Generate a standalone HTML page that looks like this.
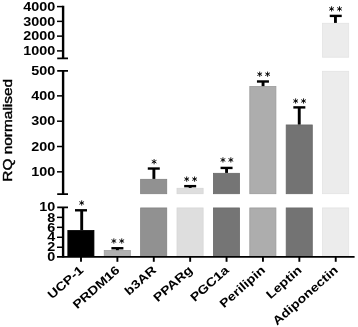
<!DOCTYPE html>
<html><head><meta charset="utf-8"><title>chart</title>
<style>
html,body{margin:0;padding:0;background:#fff;}
body{width:358px;height:327px;overflow:hidden;font-family:"Liberation Sans",sans-serif;}
svg text{font-family:"Liberation Sans",sans-serif;fill:#000;}
.yl text{font-weight:bold;font-size:12.4px;}
.xl text{font-weight:bold;font-size:12px;}
.yt{font-size:12.9px;stroke:#000;stroke-width:0.4px;}
</style></head><body>
<svg width="358" height="327" viewBox="0 0 358 327" style="display:block;will-change:transform">
<rect width="358" height="327" fill="#fff"/>
<defs><path id="ast" d="M0 -2.6V2.6M-2.35 -1.35L2.35 1.35M-2.35 1.35L2.35 -1.35" stroke="#000" stroke-width="0.92" fill="none"/></defs>
<rect x="67.85" y="230.46" width="26.10" height="26.14" fill="#000000" stroke="#000000" stroke-width="0.8"/>
<path d="M81.70 230.06V210.29" stroke="#000" stroke-width="2.9" fill="none"/><path d="M75.00 210.29H87.00" stroke="#000" stroke-width="2.4" fill="none"/>
<use href="#ast" x="81.70" y="202.95"/>
<rect x="104.24" y="250.58" width="26.10" height="6.02" fill="#b0b0b0" stroke="#9e9e9e" stroke-width="0.8"/>
<path d="M117.39 250.18V248.24" stroke="#000" stroke-width="2.9" fill="none"/><path d="M111.39 248.24H123.39" stroke="#000" stroke-width="2.4" fill="none"/>
<use href="#ast" x="113.85" y="241.00"/><use href="#ast" x="121.75" y="241.00"/>
<rect x="140.63" y="207.95" width="26.10" height="48.65" fill="#919191" stroke="#828282" stroke-width="0.8"/>
<rect x="140.63" y="179.32" width="26.10" height="14.38" fill="#919191" stroke="#828282" stroke-width="0.8"/>
<path d="M153.88 178.92V168.54" stroke="#000" stroke-width="2.9" fill="none"/><path d="M147.78 168.54H159.78" stroke="#000" stroke-width="2.4" fill="none"/>
<use href="#ast" x="154.10" y="161.70"/>
<rect x="177.02" y="207.95" width="26.10" height="48.65" fill="#dedede" stroke="#d6d6d6" stroke-width="0.8"/>
<rect x="177.02" y="188.31" width="26.10" height="5.39" fill="#dedede" stroke="#d6d6d6" stroke-width="0.8"/>
<path d="M190.17 187.91V186.14" stroke="#000" stroke-width="2.9" fill="none"/><path d="M184.17 186.14H196.17" stroke="#000" stroke-width="2.4" fill="none"/>
<use href="#ast" x="186.70" y="179.10"/><use href="#ast" x="194.60" y="179.10"/>
<rect x="213.41" y="207.95" width="26.10" height="48.65" fill="#757575" stroke="#696969" stroke-width="0.8"/>
<rect x="213.41" y="173.32" width="26.10" height="20.38" fill="#757575" stroke="#696969" stroke-width="0.8"/>
<path d="M226.56 172.92V167.93" stroke="#000" stroke-width="2.9" fill="none"/><path d="M220.56 167.93H232.56" stroke="#000" stroke-width="2.4" fill="none"/>
<use href="#ast" x="222.95" y="159.90"/><use href="#ast" x="230.85" y="159.90"/>
<rect x="249.80" y="207.95" width="26.10" height="48.65" fill="#adadad" stroke="#9b9b9b" stroke-width="0.8"/>
<rect x="249.80" y="86.52" width="26.10" height="107.18" fill="#adadad" stroke="#9b9b9b" stroke-width="0.8"/>
<path d="M263.05 86.12V81.49" stroke="#000" stroke-width="2.9" fill="none"/><path d="M256.95 81.49H268.95" stroke="#000" stroke-width="2.4" fill="none"/>
<use href="#ast" x="259.70" y="74.20"/><use href="#ast" x="267.60" y="74.20"/>
<rect x="286.19" y="207.95" width="26.10" height="48.65" fill="#737373" stroke="#676767" stroke-width="0.8"/>
<rect x="286.19" y="124.96" width="26.10" height="68.74" fill="#737373" stroke="#676767" stroke-width="0.8"/>
<path d="M299.24 124.56V107.39" stroke="#000" stroke-width="2.9" fill="none"/><path d="M293.34 107.39H305.34" stroke="#000" stroke-width="2.4" fill="none"/>
<use href="#ast" x="295.65" y="101.00"/><use href="#ast" x="303.55" y="101.00"/>
<rect x="322.58" y="207.95" width="26.10" height="48.65" fill="#ececec" stroke="#e3e3e3" stroke-width="0.8"/>
<rect x="322.58" y="71.30" width="26.10" height="122.40" fill="#ececec" stroke="#e3e3e3" stroke-width="0.8"/>
<rect x="322.58" y="23.30" width="26.10" height="33.90" fill="#ececec" stroke="#e3e3e3" stroke-width="0.8"/>
<path d="M335.43 22.90V15.90" stroke="#000" stroke-width="2.9" fill="none"/><path d="M329.73 15.90H341.73" stroke="#000" stroke-width="2.4" fill="none"/>
<use href="#ast" x="331.60" y="8.87"/><use href="#ast" x="339.50" y="8.87"/>
<g stroke="#000" stroke-width="2.4" fill="none">
<path d="M63.1 5.7V58.4M63.1 70.8V194.2M63.1 207.3V257.6"/>
</g>
<g stroke="#000" stroke-width="1.7" fill="none">
<path d="M57.2 58.4H68M57.2 70.8H68M57.2 194.2H68M57.2 207.3H68"/>
<path d="M57 256.8H354.6" stroke-width="1.8"/>
</g>
<g stroke="#000" stroke-width="1.5" fill="none">
<path d="M57 50.90H63"/>
<path d="M57 36.13H63"/>
<path d="M57 21.37H63"/>
<path d="M57 6.60H63"/>
<path d="M57 171.83H63"/>
<path d="M57 146.51H63"/>
<path d="M57 121.19H63"/>
<path d="M57 95.87H63"/>
<path d="M57 247.24H63"/>
<path d="M57 237.28H63"/>
<path d="M57 227.32H63"/>
<path d="M57 217.36H63"/>
</g>
<g stroke="#000" stroke-width="1.9" fill="none">
<path d="M81.00 257V261.8"/>
<path d="M117.39 257V261.8"/>
<path d="M153.78 257V261.8"/>
<path d="M190.17 257V261.8"/>
<path d="M226.56 257V261.8"/>
<path d="M262.95 257V261.8"/>
<path d="M299.34 257V261.8"/>
<path d="M335.73 257V261.8"/>
</g>
<g class="yl" text-anchor="end">
<text transform="translate(55.2 55.10) scale(1.16 1)">1000</text>
<text transform="translate(55.2 40.33) scale(1.16 1)">2000</text>
<text transform="translate(55.2 25.57) scale(1.16 1)">3000</text>
<text transform="translate(55.2 10.80) scale(1.16 1)">4000</text>
<text transform="translate(55.2 176.03) scale(1.16 1)">100</text>
<text transform="translate(55.2 150.71) scale(1.16 1)">200</text>
<text transform="translate(55.2 125.39) scale(1.16 1)">300</text>
<text transform="translate(55.2 100.07) scale(1.16 1)">400</text>
<text transform="translate(55.2 74.75) scale(1.16 1)">500</text>
<text transform="translate(55.2 261.40) scale(1.16 1)">0</text>
<text transform="translate(55.2 251.44) scale(1.16 1)">2</text>
<text transform="translate(55.2 241.48) scale(1.16 1)">4</text>
<text transform="translate(55.2 231.52) scale(1.16 1)">6</text>
<text transform="translate(55.2 221.56) scale(1.16 1)">8</text>
<text transform="translate(55.2 211.00) scale(1.16 1)">10</text>
</g>
<g class="xl" text-anchor="end">
<text transform="translate(84.10 271.2) rotate(-41.5) scale(1.19 1)">UCP-1</text>
<text transform="translate(120.49 271.2) rotate(-41.5) scale(1.19 1)">PRDM16</text>
<text transform="translate(156.88 271.2) rotate(-41.5) scale(1.19 1)">b3AR</text>
<text transform="translate(193.27 271.2) rotate(-41.5) scale(1.19 1)">PPARg</text>
<text transform="translate(229.66 271.2) rotate(-41.5) scale(1.19 1)">PGC1a</text>
<text transform="translate(266.05 271.2) rotate(-41.5) scale(1.19 1)">Perilipin</text>
<text transform="translate(302.44 271.2) rotate(-41.5) scale(1.19 1)">Leptin</text>
<text transform="translate(338.83 271.2) rotate(-41.5) scale(1.19 1)">Adiponectin</text>
</g>
<text class="yt" text-anchor="middle" transform="translate(12.0 130.3) rotate(-90) scale(1.195 1)">RQ normalised</text>
</svg>
</body></html>
